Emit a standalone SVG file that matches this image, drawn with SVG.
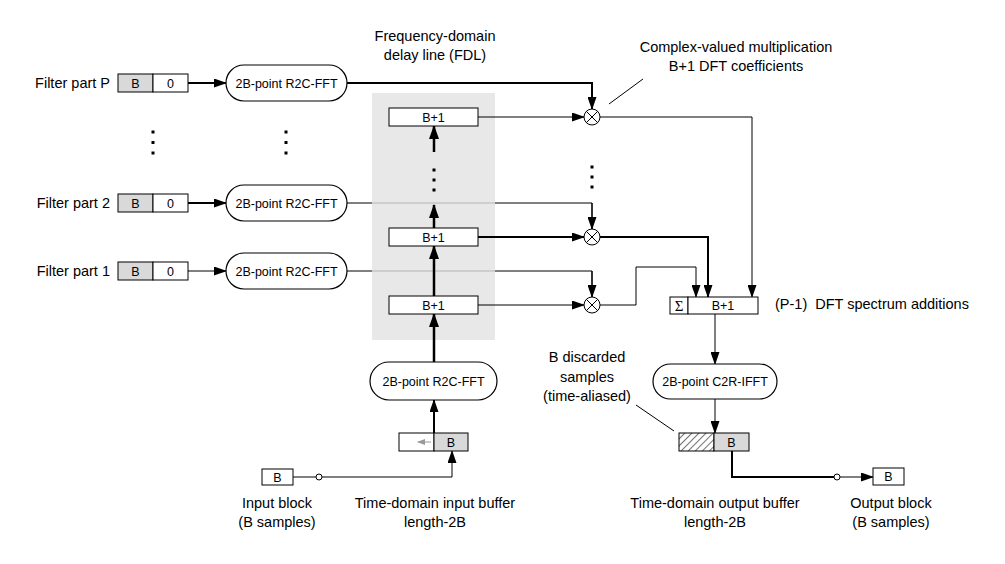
<svg xmlns="http://www.w3.org/2000/svg" width="1005" height="564" viewBox="0 0 1005 564">
<style>
text{font-family:"Liberation Sans",Arial,sans-serif;fill:#000}
.lbl{font-size:14.5px}
.sm{font-size:12.5px}
.box{fill:#fff;stroke:#000;stroke-width:1}
.gbox{fill:#d9d9d9;stroke:#000;stroke-width:1}
.pill{fill:#fff;stroke:#000;stroke-width:1.2}
.c{fill:none;stroke:#000;stroke-width:1}
.t{fill:none;stroke:#000;stroke-width:2}
.tv{fill:none;stroke:#000;stroke-width:2.5}
.g{fill:none;stroke:#b4b4b4;stroke-width:1}
.dot{fill:#000}
</style>
<defs>
<marker id="ah" markerWidth="13" markerHeight="9" refX="12" refY="4.5" orient="auto" markerUnits="userSpaceOnUse"><path d="M0,0 L13,4.5 L0,9 z" fill="#000"/></marker>
<marker id="ahb" markerWidth="14" markerHeight="10" refX="13" refY="5" orient="auto" markerUnits="userSpaceOnUse"><path d="M0,0 L14,5 L0,10 z" fill="#000"/></marker>
<marker id="ahg" markerWidth="8" markerHeight="6" refX="7" refY="3" orient="auto" markerUnits="userSpaceOnUse"><path d="M0,0 L8,3 L0,6 z" fill="#999"/></marker>
<pattern id="hatch" patternUnits="userSpaceOnUse" width="5" height="5" patternTransform="rotate(45)"><line x1="0" y1="0" x2="0" y2="5" stroke="#000" stroke-width="1.1"/></pattern>
</defs>
<rect width="1005" height="564" fill="#fff"/>

<g id="fdl-bg"><rect x="372" y="93" width="123" height="247" fill="#e8e8e8"/></g>

<g id="connectors">
<path class="t" d="M188,83 H226" marker-end="url(#ah)"/>
<path class="t" d="M347,83 H592 V109" marker-end="url(#ah)"/>
<path class="t" d="M188,203 H226" marker-end="url(#ah)"/>
<path class="c" d="M347,203 H372"/>
<path class="g" d="M372,203 H495"/>
<path class="c" d="M495,203 H592"/>
<path style="fill:none;stroke:#000;stroke-width:1.6" d="M592,203 V229" marker-end="url(#ah)"/>
<path class="c" d="M188,271 H226" marker-end="url(#ah)"/>
<path class="c" d="M347,271 H372"/>
<path class="g" d="M372,271 H495"/>
<path class="c" d="M495,271 H592"/>
<path style="fill:none;stroke:#000;stroke-width:1.6" d="M592,271 V297" marker-end="url(#ah)"/>
<path class="c" d="M478,117 H584" marker-end="url(#ah)"/>
<path class="t" d="M478,237 H584" marker-end="url(#ah)"/>
<path class="c" d="M478,305 H584" marker-end="url(#ah)"/>
<path class="c" d="M600,117 H752 V297" marker-end="url(#ah)"/>
<path class="t" d="M600,237 H708 V297" marker-end="url(#ah)"/>
<path class="c" d="M600,305 H636 V267 H696 V297" marker-end="url(#ah)"/>
<path class="c" d="M715,314 V364" marker-end="url(#ah)"/>
<path class="c" d="M715,399 V433" marker-end="url(#ah)"/>
<path class="t" d="M732,451 V477 H834"/>
<circle cx="837" cy="477" r="3" fill="#fff" stroke="#000" stroke-width="1"/>
<path class="c" d="M840,477 H873" marker-end="url(#ah)"/>
<path class="c" d="M293,477 H316"/>
<circle cx="319" cy="477" r="3" fill="#fff" stroke="#000" stroke-width="1"/>
<path class="c" d="M322,477 H452 V451" marker-end="url(#ah)"/>
<path class="t" d="M434,433 V400" marker-end="url(#ah)"/>
<path class="tv" d="M434,362 V314" marker-end="url(#ahb)"/>
<path class="tv" d="M434,296 V246" marker-end="url(#ahb)"/>
<path class="tv" d="M434,228 V205" marker-end="url(#ahb)"/>
<path class="tv" d="M434,152 V126" marker-end="url(#ahb)"/>
<path class="c" d="M609,104 L643,79"/>
<path class="c" d="M636,405 L674,431"/>
</g>

<g id="filter-p">
<text class="lbl" x="110" y="88" text-anchor="end">Filter part P</text>
<rect class="gbox" x="118" y="74" width="35" height="18"/>
<rect class="box" x="153" y="74" width="35" height="18"/>
<text class="sm" x="135.5" y="87.5" text-anchor="middle">B</text>
<text class="sm" x="170.5" y="87.5" text-anchor="middle">0</text>
</g>
<g id="fft-p">
<rect class="pill" x="226" y="65" width="121" height="36" rx="18"/>
<text class="sm" x="286.5" y="87.5" text-anchor="middle">2B-point R2C-FFT</text>
</g>
<g id="filter-2">
<text class="lbl" x="110" y="208" text-anchor="end">Filter part 2</text>
<rect class="gbox" x="118" y="194" width="35" height="18"/>
<rect class="box" x="153" y="194" width="35" height="18"/>
<text class="sm" x="135.5" y="207.5" text-anchor="middle">B</text>
<text class="sm" x="170.5" y="207.5" text-anchor="middle">0</text>
</g>
<g id="fft-2">
<rect class="pill" x="226" y="185" width="121" height="36" rx="18"/>
<text class="sm" x="286.5" y="207.5" text-anchor="middle">2B-point R2C-FFT</text>
</g>
<g id="filter-1">
<text class="lbl" x="110" y="276" text-anchor="end">Filter part 1</text>
<rect class="gbox" x="118" y="262" width="35" height="18"/>
<rect class="box" x="153" y="262" width="35" height="18"/>
<text class="sm" x="135.5" y="275.5" text-anchor="middle">B</text>
<text class="sm" x="170.5" y="275.5" text-anchor="middle">0</text>
</g>
<g id="fft-1">
<rect class="pill" x="226" y="253" width="121" height="36" rx="18"/>
<text class="sm" x="286.5" y="275.5" text-anchor="middle">2B-point R2C-FFT</text>
</g>
<g id="dots">
<rect class="dot" x="151.5" y="130.5" width="3" height="3"/>
<rect class="dot" x="151.5" y="141" width="3" height="3"/>
<rect class="dot" x="151.5" y="151.5" width="3" height="3"/>
<rect class="dot" x="284.5" y="130.5" width="3" height="3"/>
<rect class="dot" x="284.5" y="141" width="3" height="3"/>
<rect class="dot" x="284.5" y="151.5" width="3" height="3"/>
<rect class="dot" x="432.5" y="168.5" width="3" height="3"/>
<rect class="dot" x="432.5" y="178.5" width="3" height="3"/>
<rect class="dot" x="432.5" y="188.5" width="3" height="3"/>
<rect class="dot" x="590.5" y="165.5" width="3" height="3"/>
<rect class="dot" x="590.5" y="175.5" width="3" height="3"/>
<rect class="dot" x="590.5" y="185.5" width="3" height="3"/>
</g>
<g id="fdl-title">
<text class="lbl" x="435" y="41" text-anchor="middle">Frequency-domain</text>
<text class="lbl" x="435" y="60" text-anchor="middle">delay line (FDL)</text>
</g>
<g id="fdl-top">
<rect class="box" x="389" y="108" width="89" height="18"/>
<text class="sm" x="433.5" y="121.5" text-anchor="middle">B+1</text>
</g>
<g id="fdl-mid">
<rect class="box" x="389" y="228" width="89" height="18"/>
<text class="sm" x="433.5" y="241.5" text-anchor="middle">B+1</text>
</g>
<g id="fdl-bot">
<rect class="box" x="389" y="296" width="89" height="18"/>
<text class="sm" x="433.5" y="309.5" text-anchor="middle">B+1</text>
</g>
<g id="mult-top">
<circle cx="592" cy="117" r="8" fill="#fff" stroke="#000" stroke-width="1"/>
<path class="c" d="M586.3,111.3 L597.7,122.7 M597.7,111.3 L586.3,122.7"/>
</g>
<g id="mult-mid">
<circle cx="592" cy="237" r="8" fill="#fff" stroke="#000" stroke-width="1"/>
<path class="c" d="M586.3,231.3 L597.7,242.7 M597.7,231.3 L586.3,242.7"/>
</g>
<g id="mult-bot">
<circle cx="592" cy="305" r="8" fill="#fff" stroke="#000" stroke-width="1"/>
<path class="c" d="M586.3,299.3 L597.7,310.7 M597.7,299.3 L586.3,310.7"/>
</g>
<g id="mult-note">
<text class="lbl" x="736" y="52" text-anchor="middle">Complex-valued multiplication</text>
<text class="lbl" x="736" y="71" text-anchor="middle">B+1 DFT coefficients</text>
</g>
<g id="sum">
<rect class="box" x="670" y="297" width="18" height="17"/>
<rect class="box" x="688" y="297" width="70" height="17"/>
<text x="679" y="311" text-anchor="middle" style="font-family:'Liberation Serif','DejaVu Serif',serif;font-size:15px">Σ</text>
<text class="sm" x="723" y="310" text-anchor="middle">B+1</text>
<text class="lbl" x="775" y="309" style="white-space:pre">(P-1)  DFT spectrum additions</text>
</g>
<g id="fft-in">
<rect class="pill" x="370" y="362" width="127" height="38" rx="19"/>
<text class="sm" x="433.5" y="385.5" text-anchor="middle">2B-point R2C-FFT</text>
</g>
<g id="ifft">
<rect class="pill" x="653" y="364" width="124" height="35" rx="17.5"/>
<text class="sm" x="715" y="385.5" text-anchor="middle">2B-point C2R-IFFT</text>
</g>
<g id="in-buffer">
<rect class="box" x="399" y="433" width="35" height="18"/>
<rect class="gbox" x="434" y="433" width="34" height="18"/>
<path d="M431,442 H418" fill="none" stroke="#999" stroke-width="1" marker-end="url(#ahg)"/>
<text class="sm" x="451" y="446.5" text-anchor="middle">B</text>
<text class="lbl" x="435" y="508" text-anchor="middle">Time-domain input buffer</text>
<text class="lbl" x="435" y="527" text-anchor="middle">length-2B</text>
</g>
<g id="in-block">
<rect class="box" x="262" y="469" width="31" height="16"/>
<text class="sm" x="277.5" y="481.5" text-anchor="middle">B</text>
<text class="lbl" x="277" y="508" text-anchor="middle">Input block</text>
<text class="lbl" x="277" y="527" text-anchor="middle">(B samples)</text>
</g>
<g id="out-buffer">
<rect x="679" y="433" width="35" height="18" fill="url(#hatch)" stroke="#000" stroke-width="1"/>
<rect class="gbox" x="714" y="433" width="35" height="18"/>
<text class="sm" x="731.5" y="446.5" text-anchor="middle">B</text>
<text class="lbl" x="715" y="508" text-anchor="middle">Time-domain output buffer</text>
<text class="lbl" x="715" y="527" text-anchor="middle">length-2B</text>
</g>
<g id="discard-note">
<text class="lbl" x="587" y="362" text-anchor="middle">B discarded</text>
<text class="lbl" x="587" y="382" text-anchor="middle">samples</text>
<text class="lbl" x="587" y="401" text-anchor="middle">(time-aliased)</text>
</g>
<g id="out-block">
<rect class="box" x="873" y="468" width="31" height="17"/>
<text class="sm" x="888.5" y="481" text-anchor="middle">B</text>
<text class="lbl" x="891" y="508" text-anchor="middle">Output block</text>
<text class="lbl" x="891" y="527" text-anchor="middle">(B samples)</text>
</g>
</svg>
